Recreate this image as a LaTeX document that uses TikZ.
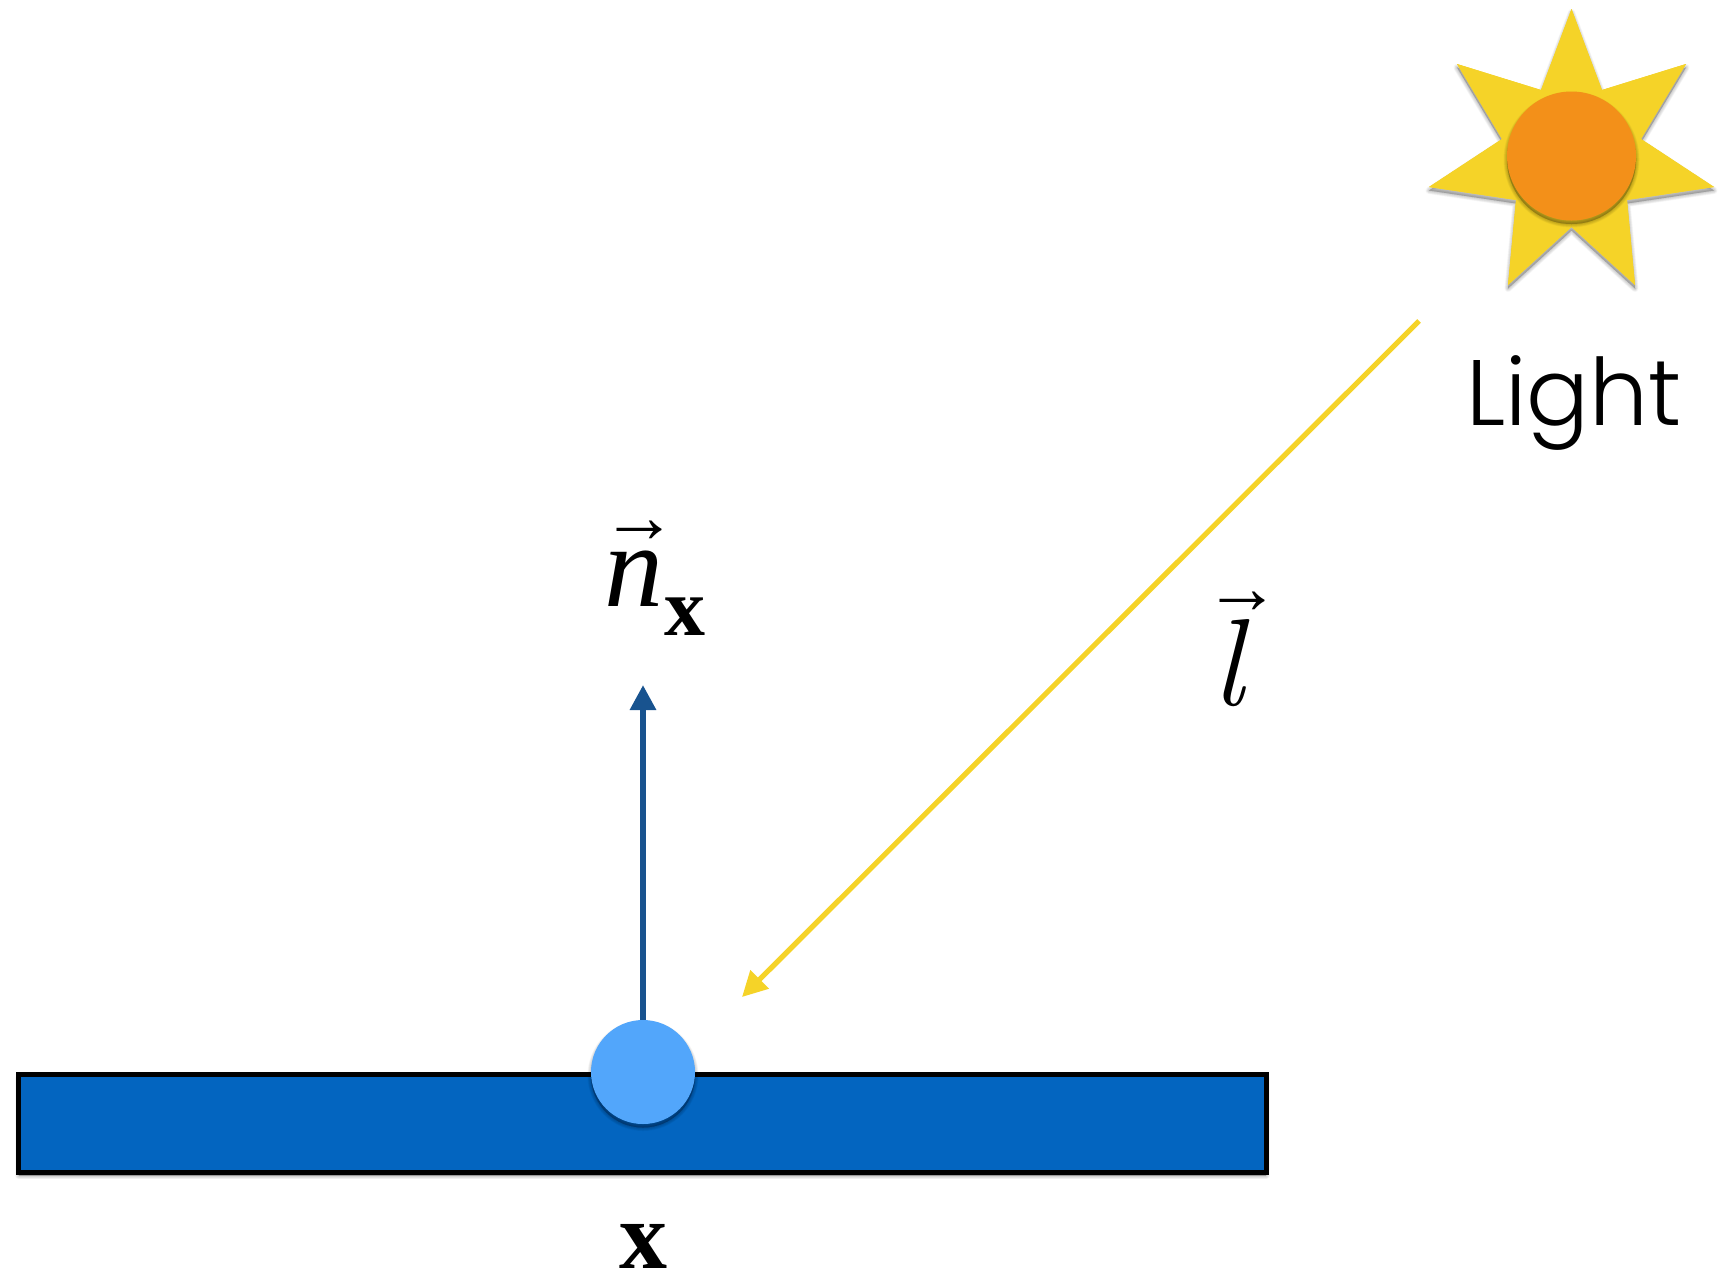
\documentclass[tikz,border=0pt]{standalone}
\usepackage{fontspec}
\setmainfont{Liberation Serif}
\newfontfamily\lightfont{Poppins Light}
\newfontfamily\italfont{Liberation Serif Italic}
\newfontfamily\boldfont{Liberation Serif Bold}
\newfontfamily\lmfont{Latin Modern Roman}
\usetikzlibrary{arrows.meta}
\definecolor{barblue}{HTML}{0365C0}
\definecolor{dotblue}{HTML}{52A6FB}
\definecolor{normalblue}{HTML}{18538F}
\definecolor{sunyellow}{HTML}{F5D328}
\definecolor{sunorange}{HTML}{F39019}
\tikzset{
  shadowlayer/.style={preaction={draw=black,fill=black,line join=round,opacity=.03,line width=#1*.5pt,transform canvas={yshift=-1.75pt}}},
  softshadow/.style={shadowlayer=7,shadowlayer=6,shadowlayer=5,shadowlayer=4,shadowlayer=3,shadowlayer=2,shadowlayer=1,shadowlayer=0.1},
  discshape/.style={circle,inner sep=0pt,draw=none,softshadow},
  raylabel/.style={inner sep=0pt,anchor=base west,text=black},
  normalarrow/.style={draw=normalblue,line width=3pt,-{Triangle[length=12.5pt,width=12.5pt]}},
  lightarrow/.style={draw=sunyellow,line width=2.6pt,-{Triangle[length=12.5pt,width=12.5pt]}}
}
\begin{document}
\begin{tikzpicture}[x=0.5pt,y=-0.5pt]
\useasboundingbox (0,0) rectangle (1722,1275);
% surface
\path[softshadow,fill=black] (18.5,1074.5) rectangle (1266,1172);
\path[fill=barblue,draw=black,line width=2.5pt,line join=miter]
  (18.5,1074.5) rectangle (1266,1172);
% sun
\path[softshadow,fill=sunyellow]
  (1571.5,9) -- (1602,90) -- (1686,64) -- (1641,139) -- (1714,187) -- (1627,200)
  -- (1635,285) -- (1571.5,227) -- (1508,285) -- (1516,200) -- (1429,187)
  -- (1502,139) -- (1457,64) -- (1541,90) -- cycle;
\path[fill=sunyellow]
  (1571.5,9) -- (1602,90) -- (1686,64) -- (1641,139) -- (1714,187) -- (1627,200)
  -- (1635,285) -- (1571.5,227) -- (1508,285) -- (1516,200) -- (1429,187)
  -- (1502,139) -- (1457,64) -- (1541,90) -- cycle;
\node[discshape,fill=sunorange,minimum size=64.5pt] (sun) at (1571.5,156) {};
% connector ends
\coordinate (ntip) at (643,685);
\coordinate (lstart) at (1419,321);
\coordinate (ltip) at (742,997);
\node[discshape,fill=dotblue,minimum size=52pt] (dot) at (643,1072) {};
\draw[normalarrow] (dot.north) -- (ntip);
\draw[lightarrow] (lstart) -- (ltip);
% labels
\node[raylabel] (lightlabel) at (1466,425) {\lightfont\fontsize{46.5}{50}\selectfont Light};
\node[raylabel] (nsym) at (604,606) {\italfont\fontsize{59}{62}\selectfont n};
\node[raylabel] (nsub) at (664,635) {\boldfont\fontsize{41}{44}\selectfont x};
\node[raylabel] (narrow) at (601,542) {\boldfont\fontsize{38}{40}\selectfont →};
\node[raylabel] (lsym) at (1212,705) {\lmfont\itshape\fontsize{62}{64}\selectfont l};
\node[raylabel] (larrow) at (1204,613) {\boldfont\fontsize{38}{40}\selectfont →};
\node[raylabel,anchor=base] (xlabel) at (643,1268) {\boldfont\fontsize{48}{50}\selectfont x};
\end{tikzpicture}
\end{document}
